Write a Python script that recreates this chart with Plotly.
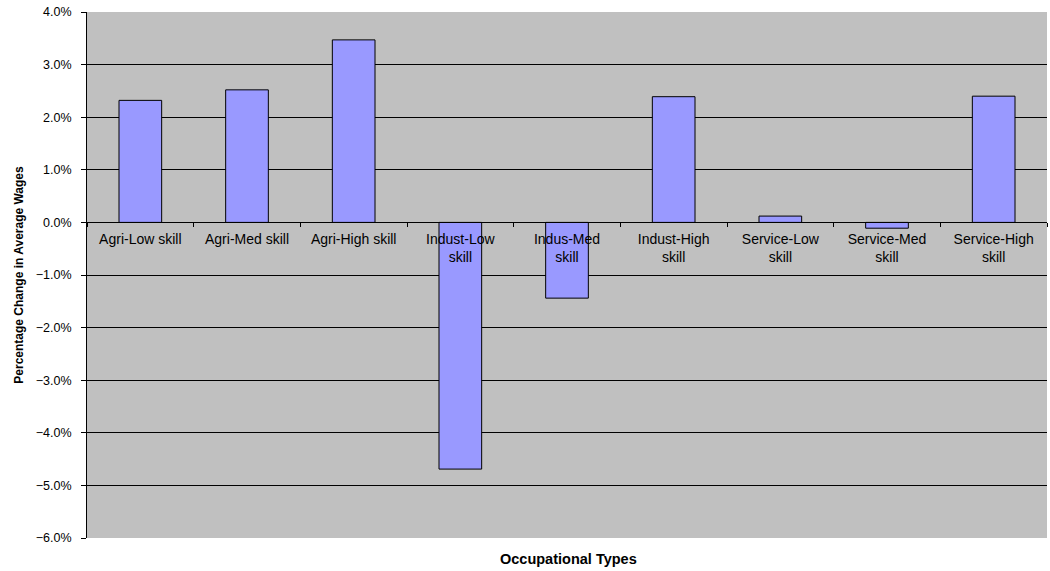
import plotly.graph_objects as go

# Occupational types and the percentage change in average wages (as fractions)
categories = [
    "Agri-Low skill", "Agri-Med skill", "Agri-High skill",
    "Indust-Low<br>skill", "Indus-Med<br>skill", "Indust-High<br>skill",
    "Service-Low<br>skill", "Service-Med<br>skill", "Service-High<br>skill",
]
wage_change = [0.0232, 0.0252, 0.0347, -0.0469, -0.0144, 0.0239, 0.0012, -0.0011, 0.0240]

y_ticks = [-0.06, -0.05, -0.04, -0.03, -0.02, -0.01, 0.0, 0.01, 0.02, 0.03, 0.04]
y_range = [-0.06, 0.04]

font_family = "Liberation Sans, Arial, sans-serif"

fig = go.Figure(
    go.Bar(
        x=categories,
        y=wage_change,
        width=0.4,
        marker=dict(color="#9999FF", line=dict(color="#000000", width=1)),
    )
)

# category axis sits on the zero line
zero_pos = (0 - y_range[0]) / (y_range[1] - y_range[0])

fig.update_layout(
    width=1050,
    height=571,
    margin=dict(l=87, r=3, t=12, b=33),
    paper_bgcolor="white",
    plot_bgcolor="#C0C0C0",
    showlegend=False,
    font=dict(family=font_family, color="#000000"),
    xaxis=dict(
        type="category",
        anchor="free",
        position=zero_pos,
        showline=True,
        linecolor="#000000",
        linewidth=1,
        ticks="outside",
        tickson="boundaries",
        ticklen=4,
        tickcolor="#000000",
        ticklabelstandoff=4,
        showgrid=False,
        tickfont=dict(size=14, family=font_family, color="#000000"),
        tickangle=0,
        range=[-0.5, len(categories) - 0.5],
    ),
    yaxis=dict(
        range=y_range,
        tickvals=y_ticks,
        tickformat=".1%",
        showgrid=True,
        gridcolor="#000000",
        gridwidth=1,
        zeroline=True,
        zerolinecolor="#000000",
        zerolinewidth=1,
        showline=True,
        linecolor="#000000",
        linewidth=1,
        ticks="outside",
        ticklen=5,
        tickcolor="#000000",
        ticklabelstandoff=7,
        tickfont=dict(size=12.5, family=font_family, color="#000000"),
        title=dict(
            text="<b>Percentage Change in Average Wages</b>",
            font=dict(size=12, family=font_family, color="#000000"),
            standoff=9,
        ),
    ),
    annotations=[
        dict(
            text="<b>Occupational Types</b>",
            xref="paper",
            yref="paper",
            x=0.502,
            y=-0.04,
            xanchor="center",
            yanchor="middle",
            showarrow=False,
            font=dict(size=14.5, family=font_family, color="#000000"),
        )
    ],
)

fig.write_html("out.html")
